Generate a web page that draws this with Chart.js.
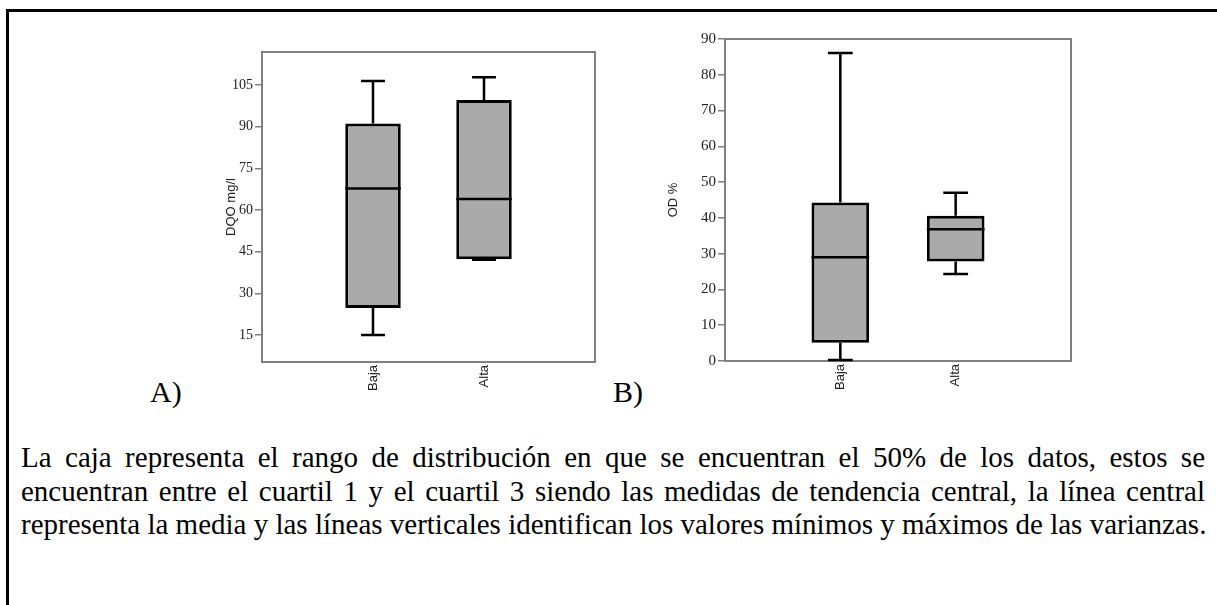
<!DOCTYPE html>
<html lang="es">
<head>
<meta charset="utf-8">
<title>DQO y OD</title>
<script src="https://cdn.jsdelivr.net/npm/chart.js@4.4.1/dist/chart.umd.min.js"></script>
<style>
    body {
        margin: 0;
        width: 1217px;
        height: 605px;
        overflow: hidden;
        background: #fff;
        position: relative;
        font-family: 'Liberation Serif', 'Times New Roman', serif;
        color: #000;
    }

    .marco {
        position: absolute;
        left: 6px;
        top: 9px;
        width: 1220px;
        height: 700px;
        border: 3px solid #000;
        box-sizing: border-box;
    }

    #chartA {
        position: absolute;
        left: 220px;
        top: 40px;
    }

    #chartB {
        position: absolute;
        left: 662px;
        top: 27px;
    }

    .letra {
        position: absolute;
        top: 377px;
        font-size: 30px;
        line-height: 30px;
    }

    .nota {
        position: absolute;
        left: 21px;
        top: 441px;
        width: 1184px;
        font-size: 29px;
        line-height: 33.5px;
    }

    .nota .just {
        text-align: justify;
        text-align-last: justify;
    }

    .nota .ultima {
        white-space: nowrap;
    }
</style>
</head>
<body>
<div class="marco"></div>

<canvas id="chartA" width="385" height="372"></canvas>
<canvas id="chartB" width="419" height="384"></canvas>

<div class="letra" style="left:150px">A)</div>
<div class="letra" style="left:613px">B)</div>

<div class="nota">
    <div class="just">La caja representa el rango de distribución en que se encuentran el 50% de los datos, estos se</div>
    <div class="just">encuentran entre el cuartil 1 y el cuartil 3 siendo las medidas de tendencia central, la línea central</div>
    <div class="ultima">representa la media y las líneas verticales identifican los valores mínimos y máximos de las varianzas.</div>
</div>

<script>
const categories = ['Baja', 'Alta'];

// DQO mg/l
const dqoMin = [15, 42.1];
const dqoQ1 = [24.7, 42.3];
const dqoMedian = [67.8, 64];
const dqoQ3 = [91.2, 99.6];
const dqoMax = [106.5, 107.8];
const dqoTicks = [15, 30, 45, 60, 75, 90, 105];

// OD %
const odMin = [0.3, 24.3];
const odQ1 = [5.1, 27.8];
const odMedian = [29, 36.8];
const odQ3 = [44.3, 40.6];
const odMax = [86.1, 47];
const odTicks = [0, 10, 20, 30, 40, 50, 60, 70, 80, 90];

const serif = 'Liberation Serif, Times New Roman, serif';
const sans = 'Liberation Sans, Arial, sans-serif';

// grey frame around the plot area
const plotFrame = {
    id: 'plotFrame',
    beforeDatasetsDraw(chart) {
        const { ctx, chartArea } = chart;
        ctx.save();
        ctx.strokeStyle = '#808080';
        ctx.lineWidth = 2;
        ctx.strokeRect(chartArea.left, chartArea.top,
            chartArea.right - chartArea.left, chartArea.bottom - chartArea.top);
        ctx.restore();
    }
};

// whiskers, caps and median line on top of the floating bars
const boxLines = {
    id: 'boxLines',
    afterDatasetsDraw(chart, args, opts) {
        const { ctx } = chart;
        const y = chart.scales.y;
        const meta = chart.getDatasetMeta(0);

        ctx.save();
        ctx.strokeStyle = '#000';
        ctx.lineCap = 'butt';
        ctx.lineWidth = 2.5;

        for (let i = 0; i < categories.length; i++) {
            const bar = meta.data[i + 1];
            const { x, width } = bar.getProps(['x', 'width'], true);
            const cap = width * 0.43;

            const yMin = y.getPixelForValue(opts.min[i]);
            const yQ1 = y.getPixelForValue(opts.q1[i]);
            const yMed = y.getPixelForValue(opts.median[i]);
            const yQ3 = y.getPixelForValue(opts.q3[i]);
            const yMax = y.getPixelForValue(opts.max[i]);

            ctx.beginPath();
            ctx.moveTo(x, yQ3);
            ctx.lineTo(x, yMax);
            ctx.moveTo(x - cap / 2, yMax);
            ctx.lineTo(x + cap / 2, yMax);
            ctx.moveTo(x, yQ1);
            ctx.lineTo(x, yMin);
            ctx.moveTo(x - cap / 2, yMin);
            ctx.lineTo(x + cap / 2, yMin);
            ctx.stroke();

            ctx.beginPath();
            ctx.moveTo(x - width / 2, yMed);
            ctx.lineTo(x + width / 2, yMed);
            ctx.stroke();
        }

        ctx.restore();
    }
};

function initBoxChart(id, cfg) {
    const ctx = document.getElementById(id);
    const labels = ['', ...categories, ''];
    const boxes = [null, ...categories.map((c, i) => [cfg.q1[i], cfg.q3[i]]), null];

    return new Chart(ctx, {
        type: 'bar',
        data: {
            labels: labels,
            datasets: [{
                data: boxes,
                backgroundColor: '#aaaaaa',
                borderColor: '#000',
                borderWidth: 3,
                borderSkipped: false,
                barPercentage: 0.5,
                categoryPercentage: 1
            }]
        },
        options: {
            responsive: false,
            animation: false,
            layout: {
                padding: { top: cfg.padTop, right: 10, bottom: 0, left: 0 }
            },
            scales: {
                x: {
                    offset: false,
                    grid: { display: false, drawTicks: false },
                    border: { display: false },
                    ticks: {
                        autoSkip: false,
                        minRotation: 90,
                        maxRotation: 90,
                        padding: 3,
                        font: { family: sans, size: 13 },
                        color: '#222'
                    },
                    afterFit(scale) {
                        scale.height = cfg.xHeight;
                        scale.paddingLeft = 0;
                        scale.paddingRight = 0;
                    }
                },
                y: {
                    min: cfg.yMin,
                    max: cfg.yMax,
                    afterBuildTicks(scale) {
                        scale.ticks = cfg.ticks.map(v => ({ value: v }));
                    },
                    afterFit(scale) {
                        scale.width = cfg.yWidth;
                    },
                    grid: {
                        drawOnChartArea: false,
                        drawTicks: true,
                        tickLength: 7,
                        color: '#808080',
                        lineWidth: 1.5
                    },
                    border: { display: false },
                    ticks: {
                        padding: 2,
                        font: { family: serif, size: cfg.tickSize },
                        color: '#222'
                    },
                    title: {
                        display: true,
                        text: cfg.title,
                        padding: { top: 4, bottom: 4 },
                        font: { family: sans, size: 13 },
                        color: '#222'
                    }
                }
            },
            plugins: {
                legend: { display: false },
                tooltip: { enabled: false },
                boxLines: {
                    min: cfg.min,
                    q1: cfg.q1,
                    median: cfg.median,
                    q3: cfg.q3,
                    max: cfg.max
                }
            }
        },
        plugins: [plotFrame, boxLines]
    });
}

initBoxChart('chartA', {
    title: 'DQO mg/l',
    min: dqoMin, q1: dqoQ1, median: dqoMedian, q3: dqoQ3, max: dqoMax,
    ticks: dqoTicks,
    yMin: 5.3, yMax: 116.9,
    padTop: 12, xHeight: 50, yWidth: 42,
    tickSize: 14
});

initBoxChart('chartB', {
    title: 'OD %',
    min: odMin, q1: odQ1, median: odMedian, q3: odQ3, max: odMax,
    ticks: odTicks,
    yMin: 0, yMax: 90,
    padTop: 12, xHeight: 50, yWidth: 63,
    tickSize: 15
});
</script>
</body>
</html>
